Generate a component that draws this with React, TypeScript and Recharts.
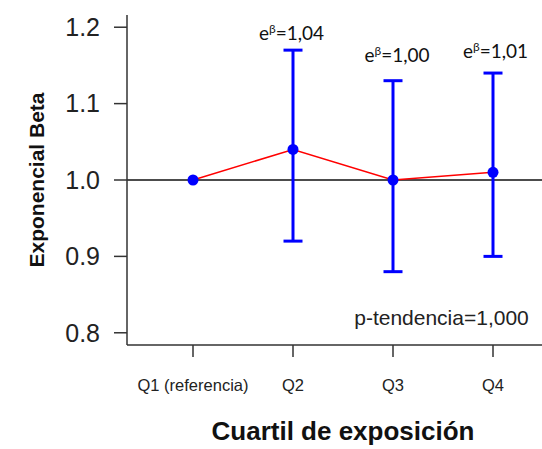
import React from "react"
import {
  ComposedChart, Line, Scatter, XAxis, YAxis, ErrorBar, ReferenceLine,
} from "recharts"

const quartiles = ["Q1 (referencia)", "Q2", "Q3", "Q4"]
const expBeta = [1.0, 1.04, 1.0, 1.01]
const ciLow: (number | null)[] = [null, 0.92, 0.88, 0.9]
const ciHigh: (number | null)[] = [null, 1.17, 1.13, 1.14]
const betaText = ["", "1,04", "1,00", "1,01"]
// where each e^β note sits, in chart units
const noteX = [0, 1.985, 3.04, 4.025]
const noteY = [0, 1.183, 1.155, 1.16]
const pTrendText = "p-tendencia=1,000"
const pTrendAt = { x: 3.485, y: 0.81 }
const yTicks = [0.8, 0.9, 1.0, 1.1, 1.2]
const xTicks = [1, 2, 3, 4]

const xDomain: [number, number] = [0.34, 4.66]
const yDomain: [number, number] = [0.784, 1.216]

const data = quartiles.map((q, i) => {
  const lo = ciLow[i]
  const hi = ciHigh[i]
  return {
    x: i + 1,
    name: q,
    beta: expBeta[i],
    err: lo == null || hi == null ? null : [expBeta[i] - lo, hi - expBeta[i]],
  }
})

const notes = betaText
  .map((t, i) => ({ x: noteX[i], y: noteY[i], text: t }))
  .filter((n) => n.text !== "")

const pNote = [{ x: pTrendAt.x, y: pTrendAt.y, text: pTrendText }]

const frame = "#333"
const sans = "'Liberation Sans', Arial, sans-serif"

function BetaNote(props: any) {
  const { cx, cy, payload } = props
  return (
    <text x={cx} y={cy} textAnchor="middle" fontFamily="Lato, sans-serif" fontSize={19} fill="#111">
      <tspan>e</tspan>
      <tspan dy={-7} fontSize={12}>β</tspan>
      <tspan dy={7}>={payload.text}</tspan>
    </text>
  )
}

function PNote(props: any) {
  const { cx, cy, payload } = props
  return (
    <text x={cx} y={cy} textAnchor="middle" fontFamily={sans} fontSize={21} fill="#222">
      {payload.text}
    </text>
  )
}

export default function App() {
  return (
    <div style={{ position: "absolute", left: 0, top: 0, width: 542, height: 449, overflow: "hidden", background: "#fff" }}>
      <ComposedChart width={559} height={449} data={data} margin={{ top: 15, right: 0, bottom: 0, left: 0 }}>
        <XAxis
          dataKey="x"
          type="number"
          domain={xDomain}
          ticks={xTicks}
          allowDataOverflow
          height={104}
          tickSize={12}
          tickMargin={22}
          stroke={frame}
          axisLine={{ stroke: frame, strokeWidth: 1.5 }}
          tickLine={{ stroke: frame, strokeWidth: 1.5 }}
          tick={{ fontSize: 16.5, fill: "#222", fontFamily: sans }}
          tickFormatter={(v: number) => quartiles[v - 1] ?? ""}
          label={{
            content: ({ viewBox }: any) => (
              <text
                x={viewBox.x + viewBox.width / 2}
                y={viewBox.y + 95}
                textAnchor="middle"
                fontFamily={sans}
                fontWeight="bold"
                fontSize={26}
                fill="#111"
              >
                Cuartil de exposición
              </text>
            ),
          }}
        />
        <XAxis
          xAxisId="top"
          orientation="top"
          type="number"
          domain={xDomain}
          allowDataOverflow
          height={0}
          tick={false}
          tickLine={false}
          axisLine={{ stroke: frame, strokeWidth: 1.5 }}
        />
        <YAxis
          type="number"
          domain={yDomain}
          ticks={yTicks}
          allowDataOverflow
          width={127}
          tickSize={13}
          tickMargin={14}
          axisLine={{ stroke: frame, strokeWidth: 1.5 }}
          tickLine={{ stroke: frame, strokeWidth: 1.5 }}
          tick={{ fontSize: 25, fill: "#222", fontFamily: sans }}
          tickFormatter={(v: number) => v.toFixed(1)}
          label={{
            content: ({ viewBox }: any) => {
              const cy = viewBox.y + viewBox.height / 2
              return (
                <text
                  x={44}
                  y={cy}
                  transform={`rotate(-90, 44, ${cy})`}
                  textAnchor="middle"
                  fontFamily={sans}
                  fontWeight="bold"
                  fontSize={21}
                  fill="#111"
                >
                  Exponencial Beta
                </text>
              )
            },
          }}
        />
        <ReferenceLine y={1} stroke="#111" strokeWidth={1.4} />
        <Line
          dataKey="beta"
          stroke="#FF0000"
          strokeWidth={1.5}
          dot={{ r: 5.5, fill: "#0000FF", stroke: "none" }}
          activeDot={false}
          isAnimationActive={false}
        >
          <ErrorBar dataKey="err" direction="y" width={9.5} stroke="#0000FF" strokeWidth={3} />
        </Line>
        <Scatter data={notes} dataKey="y" shape={BetaNote} isAnimationActive={false} />
        <Scatter data={pNote} dataKey="y" shape={PNote} isAnimationActive={false} />
      </ComposedChart>
    </div>
  )
}
